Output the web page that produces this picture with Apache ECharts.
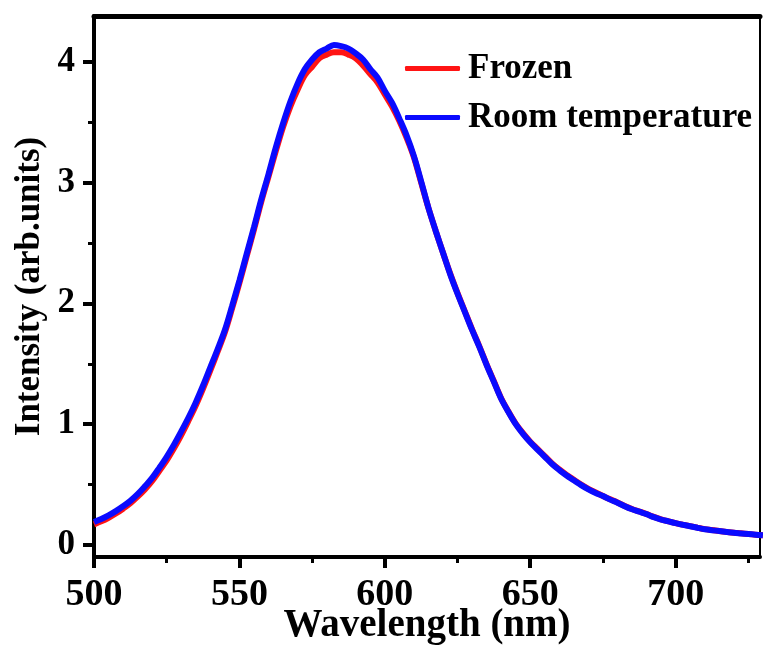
<!DOCTYPE html>
<html>
<head>
<meta charset="utf-8">
<script src="https://cdn.jsdelivr.net/npm/echarts@6/dist/echarts.min.js"></script>
<style>
  html, body { margin: 0; padding: 0; background: #fff; }
  #chart { width: 763px; height: 652px; }
</style>
</head>
<body>
<div id="chart"></div>
<script>
// Photoluminescence spectra: wavelength (nm) vs intensity (arb. units)
const wavelength = [
  500, 502.5, 505, 507.5, 510, 512.5, 515, 517.5, 520, 522.5,
  525, 527.5, 530, 532.5, 535, 537.5, 540, 542.5, 545, 547.5,
  550, 552.5, 555, 557.5, 560, 562.5, 565, 567.5, 570, 572.5,
  575, 577.5, 580, 582.5, 585, 587.5, 590, 592.5, 595, 597.5,
  600, 602.5, 605, 607.5, 610, 612.5, 615, 617.5, 620, 622.5,
  625, 627.5, 630, 632.5, 635, 637.5, 640, 642.5, 645, 647.5,
  650, 652.5, 655, 657.5, 660, 662.5, 665, 667.5, 670, 672.5,
  675, 677.5, 680, 682.5, 685, 687.5, 690, 692.5, 695, 697.5,
  700, 702.5, 705, 707.5, 710, 712.5, 715, 717.5, 720, 722.5,
  725, 727.5, 730
];

const frozen = [
  0.17, 0.195, 0.225, 0.26, 0.30, 0.345, 0.40, 0.46, 0.53, 0.615,
  0.70, 0.80, 0.91, 1.03, 1.155, 1.295, 1.445, 1.60, 1.76, 1.96,
  2.17, 2.39, 2.61, 2.84, 3.05, 3.26, 3.46, 3.63, 3.77, 3.89,
  3.96, 4.03, 4.06, 4.08, 4.08, 4.06, 4.03, 3.97, 3.90, 3.83,
  3.73, 3.63, 3.51, 3.37, 3.21, 3.00, 2.79, 2.60, 2.42, 2.245,
  2.085, 1.935, 1.785, 1.645, 1.495, 1.355, 1.215, 1.105, 1.005, 0.925,
  0.855, 0.795, 0.735, 0.675, 0.625, 0.58, 0.54, 0.50, 0.465, 0.435,
  0.405, 0.378, 0.352, 0.322, 0.297, 0.277, 0.256, 0.232, 0.212, 0.196,
  0.181, 0.168, 0.156, 0.143, 0.131, 0.123, 0.115, 0.108, 0.101, 0.096,
  0.09, 0.085, 0.08
];

const roomTemperature = [
  0.19, 0.215, 0.245, 0.28, 0.32, 0.365, 0.42, 0.485, 0.555, 0.64,
  0.73, 0.83, 0.94, 1.055, 1.18, 1.32, 1.47, 1.62, 1.78, 1.98,
  2.19, 2.41, 2.63, 2.86, 3.07, 3.29, 3.49, 3.67, 3.82, 3.94,
  4.02, 4.08, 4.11, 4.14, 4.13, 4.11, 4.07, 4.02, 3.94, 3.87,
  3.76, 3.66, 3.53, 3.39, 3.22, 3.01, 2.79, 2.60, 2.42, 2.24,
  2.08, 1.93, 1.78, 1.64, 1.49, 1.35, 1.21, 1.10, 1.00, 0.92,
  0.85, 0.79, 0.73, 0.67, 0.62, 0.575, 0.535, 0.495, 0.46, 0.43,
  0.405, 0.375, 0.35, 0.32, 0.295, 0.275, 0.255, 0.23, 0.21, 0.195,
  0.18, 0.167, 0.155, 0.142, 0.13, 0.122, 0.115, 0.107, 0.10, 0.095,
  0.09, 0.085, 0.08
];

const seriesNames = ['Frozen', 'Room temperature'];
const seriesColors = ['#ff1414', '#0a0aff'];

// Axis ranges and tick settings
const X_MIN = 500, X_MAX = 729;
const X_TICK_MAX = 750, X_STEP = 50;
const Y_MIN = -0.1, Y_MAX = 4.38;
const Y_TICK_MIN = 0, Y_TICK_MAX = 4, Y_STEP = 1;

// Plot frame in pixels
const W = 763, H = 652;
const PL = 94, PR = 760, PT = 16, PB = 557;
const pxPerX = (PR - PL) / (X_MAX - X_MIN);
const pxPerY = (PB - PT) / (Y_MAX - Y_MIN);
const xPix = v => PL + (v - X_MIN) * pxPerX;
const yPix = v => PB - (v - Y_MIN) * pxPerY;

const FONT = 'Liberation Serif, Times New Roman, serif';
const black = '#000';

const pair = (xs, ys) => xs.map((x, i) => [x, ys[i]]);

const gridBase = { outerBoundsMode: 'none', containLabel: false };

const chart = echarts.init(document.getElementById('chart'), null, { renderer: 'canvas' });

chart.setOption({
  animation: false,
  backgroundColor: '#fff',
  grid: [
    // main plotting area
    Object.assign({ left: PL, right: W - PR, top: PT, bottom: H - PB }, gridBase),
    // y tick scale spanning 0..4
    Object.assign({ left: PL, right: W - PR, top: yPix(Y_TICK_MAX), bottom: H - yPix(Y_TICK_MIN) }, gridBase),
    // x tick scale spanning 500..750
    Object.assign({ left: PL, right: W - xPix(X_TICK_MAX), top: PT, bottom: H - PB }, gridBase)
  ],
  legend: {
    data: seriesNames,
    orient: 'vertical',
    left: 405,
    top: 51,
    padding: 0,
    itemWidth: 55,
    itemHeight: 5,
    itemGap: 14,
    icon: 'roundRect',
    textStyle: {
      fontFamily: FONT, fontWeight: 'bold', fontSize: 35, color: black,
      padding: [0, 0, 0, 3]
    }
  },
  xAxis: [
    {
      gridIndex: 0, type: 'value', min: X_MIN, max: X_MAX, position: 'bottom',
      axisLine: { show: true, onZero: false, lineStyle: { color: black, width: 4 } },
      axisTick: { show: false }, axisLabel: { show: false }, splitLine: { show: false },
      name: 'Wavelength (nm)', nameLocation: 'middle', nameGap: 49,
      nameTextStyle: { fontFamily: FONT, fontWeight: 'bold', fontSize: 39, color: black }
    },
    {
      gridIndex: 0, type: 'value', min: X_MIN, max: X_MAX, position: 'top',
      axisLine: { show: true, onZero: false, lineStyle: { color: black, width: 5 } },
      axisTick: { show: false }, axisLabel: { show: false }, splitLine: { show: false }
    },
    {
      gridIndex: 2, type: 'value', min: X_MIN, max: X_TICK_MAX, interval: X_STEP, position: 'bottom',
      axisLine: { show: false, onZero: false },
      axisTick: { show: true, inside: false, length: 11, lineStyle: { color: black, width: 4 } },
      minorTick: { show: true, splitNumber: 2, length: 6, lineStyle: { color: black, width: 3 } },
      axisLabel: { show: true, margin: 19, fontFamily: FONT, fontWeight: 'bold', fontSize: 38, color: black },
      splitLine: { show: false }
    },
    { gridIndex: 1, type: 'value', min: X_MIN, max: X_MAX, show: false }
  ],
  yAxis: [
    {
      gridIndex: 0, type: 'value', min: Y_MIN, max: Y_MAX, position: 'left',
      axisLine: { show: true, onZero: false, lineStyle: { color: black, width: 4 } },
      axisTick: { show: false }, axisLabel: { show: false }, splitLine: { show: false },
      name: 'Intensity (arb.units)', nameLocation: 'middle', nameGap: 47, nameRotate: 90,
      nameTextStyle: { fontFamily: FONT, fontWeight: 'bold', fontSize: 35, color: black }
    },
    {
      gridIndex: 0, type: 'value', min: Y_MIN, max: Y_MAX, position: 'right',
      axisLine: { show: true, onZero: false, lineStyle: { color: black, width: 2 } },
      axisTick: { show: false }, axisLabel: { show: false }, splitLine: { show: false }
    },
    {
      gridIndex: 1, type: 'value', min: Y_TICK_MIN, max: Y_TICK_MAX, interval: Y_STEP, position: 'left',
      axisLine: { show: false, onZero: false },
      axisTick: { show: true, inside: false, length: 11, lineStyle: { color: black, width: 4 } },
      minorTick: { show: true, splitNumber: 2, length: 6, lineStyle: { color: black, width: 3 } },
      axisLabel: { show: true, margin: 19, fontFamily: FONT, fontWeight: 'bold', fontSize: 35, color: black },
      splitLine: { show: false }
    },
    { gridIndex: 2, type: 'value', min: 0, max: 1, show: false }
  ],
  series: [
    {
      name: seriesNames[0], type: 'line', xAxisIndex: 0, yAxisIndex: 0,
      data: pair(wavelength, frozen), symbol: 'none', smooth: 0.35,
      itemStyle: { color: seriesColors[0] },
      lineStyle: { color: seriesColors[0], width: 6 }, z: 2
    },
    {
      name: seriesNames[1], type: 'line', xAxisIndex: 0, yAxisIndex: 0,
      data: pair(wavelength, roomTemperature), symbol: 'none', smooth: 0.35,
      itemStyle: { color: seriesColors[1] },
      lineStyle: { color: seriesColors[1], width: 6 }, z: 3
    }
  ]
});
</script>
</body>
</html>
